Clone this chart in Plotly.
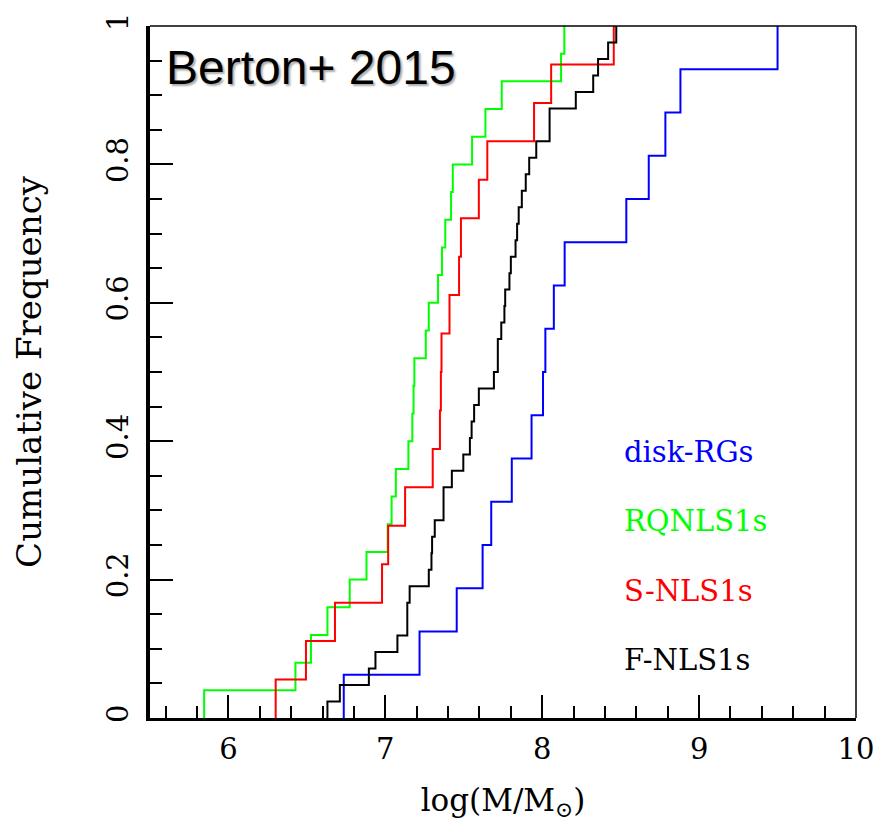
import plotly.graph_objects as go

# log(M/Msun) samples (sorted)
disk_rgs = [6.735, 7.218, 7.455, 7.62, 7.675, 7.806, 7.932, 8.005, 8.02, 8.074,
            8.143, 8.536, 8.679, 8.785, 8.881, 9.50]
rq_nls1 = [5.845, 6.427, 6.526, 6.631, 6.773, 6.880, 7.015, 7.04, 7.067, 7.147,
           7.172, 7.18, 7.185, 7.258, 7.277, 7.336, 7.361, 7.382, 7.419, 7.43,
           7.553, 7.638, 7.742, 8.120, 8.141]
s_nls1 = [6.301, 6.494, 6.679, 6.979, 7.018, 7.126, 7.302, 7.348, 7.354, 7.358,
          7.409, 7.470, 7.482, 7.596, 7.650, 7.948, 8.057, 8.456]
f_nls1 = [6.631, 6.71, 6.895, 6.937, 7.077, 7.14, 7.14, 7.155, 7.277, 7.294,
          7.298, 7.315, 7.371, 7.371, 7.424, 7.497, 7.539, 7.55, 7.566, 7.596,
          7.692, 7.717, 7.717, 7.739, 7.759, 7.764, 7.791, 7.80, 7.83, 7.84,
          7.85, 7.87, 7.895, 7.917, 7.962, 8.047, 8.047, 8.214, 8.325, 8.356,
          8.42, 8.472]

series_names = ["disk-RGs", "RQNLS1s", "S-NLS1s", "F-NLS1s"]
series_data = [disk_rgs, rq_nls1, s_nls1, f_nls1]
series_colors = ["#0000ff", "#00ff00", "#ff0000", "#000000"]

x_ticks = [6, 7, 8, 9, 10]
y_ticks = [0, 0.2, 0.4, 0.6, 0.8, 1]


def ecdf(vals):
    v = sorted(vals)
    n = len(v)
    xs = v + [v[-1]]
    ys = [i / n for i in range(n)] + [1.0]
    return xs, ys


fig = go.Figure()
for name, vals, col in zip(series_names, series_data, series_colors):
    xs, ys = ecdf(vals)
    fig.add_trace(go.Scatter(x=xs, y=ys, mode="lines", name=name,
                             line=dict(color=col, width=2, shape="vh"),
                             showlegend=False))

serif = "DejaVu Serif"
# legend-like labels
label_y = [0.384, 0.284, 0.184, 0.084]
for name, col, yy in zip(series_names, series_colors, label_y):
    fig.add_annotation(x=0.668, y=yy, xref="paper", yref="paper",
                       text=name, showarrow=False, xanchor="left", yanchor="middle",
                       font=dict(family=serif, size=29, color=col))

fig.add_annotation(x=0.02, y=0.94, xref="paper", yref="paper",
                   text="Berton+ 2015", showarrow=False,
                   xanchor="left", yanchor="middle",
                   font=dict(family="Liberation Sans", size=48, color="black",
                             shadow="2px 2px 2px #aaaaaa"))

# thin top/right frame lines
fig.add_shape(type="line", xref="paper", yref="paper", x0=0, y0=1, x1=1, y1=1,
              line=dict(color="black", width=1.5))
fig.add_shape(type="line", xref="paper", yref="paper", x0=1, y0=0, x1=1, y1=1,
              line=dict(color="black", width=1.5))

fig.update_layout(
    width=886, height=832,
    margin=dict(l=150, r=21, t=17, b=114),
    paper_bgcolor="white", plot_bgcolor="white",
    font=dict(family=serif, color="black"),
    xaxis=dict(range=[5.5, 10], tickvals=x_ticks, ticks="inside", ticklen=23,
               tickwidth=2, tickcolor="black", showline=True, linewidth=2.5,
               linecolor="black", showgrid=False, zeroline=False,
               ticklabelstandoff=3,
               tickfont=dict(family=serif, size=29),
               minor=dict(dtick=0.2, tick0=0, ticks="inside", ticklen=12,
                          tickwidth=2, tickcolor="black", showgrid=False),
               title=dict(text="log(M/M<sub>⊙</sub>)", standoff=25,
                          font=dict(family=serif, size=31))),
    yaxis=dict(range=[0, 1], tickvals=y_ticks, ticks="inside", ticklen=23,
               tickwidth=2, tickcolor="black", showline=True, linewidth=3.5,
               linecolor="black", showgrid=False, zeroline=False,
               tickangle=-90, ticklabelstandoff=7,
               tickfont=dict(family=serif, size=29),
               minor=dict(dtick=0.05, tick0=0, ticks="inside", ticklen=12,
                          tickwidth=2, tickcolor="black", showgrid=False),
               title=dict(text="Cumulative Frequency", standoff=50,
                          font=dict(family=serif, size=34))),
)

fig.write_html("out.html")
